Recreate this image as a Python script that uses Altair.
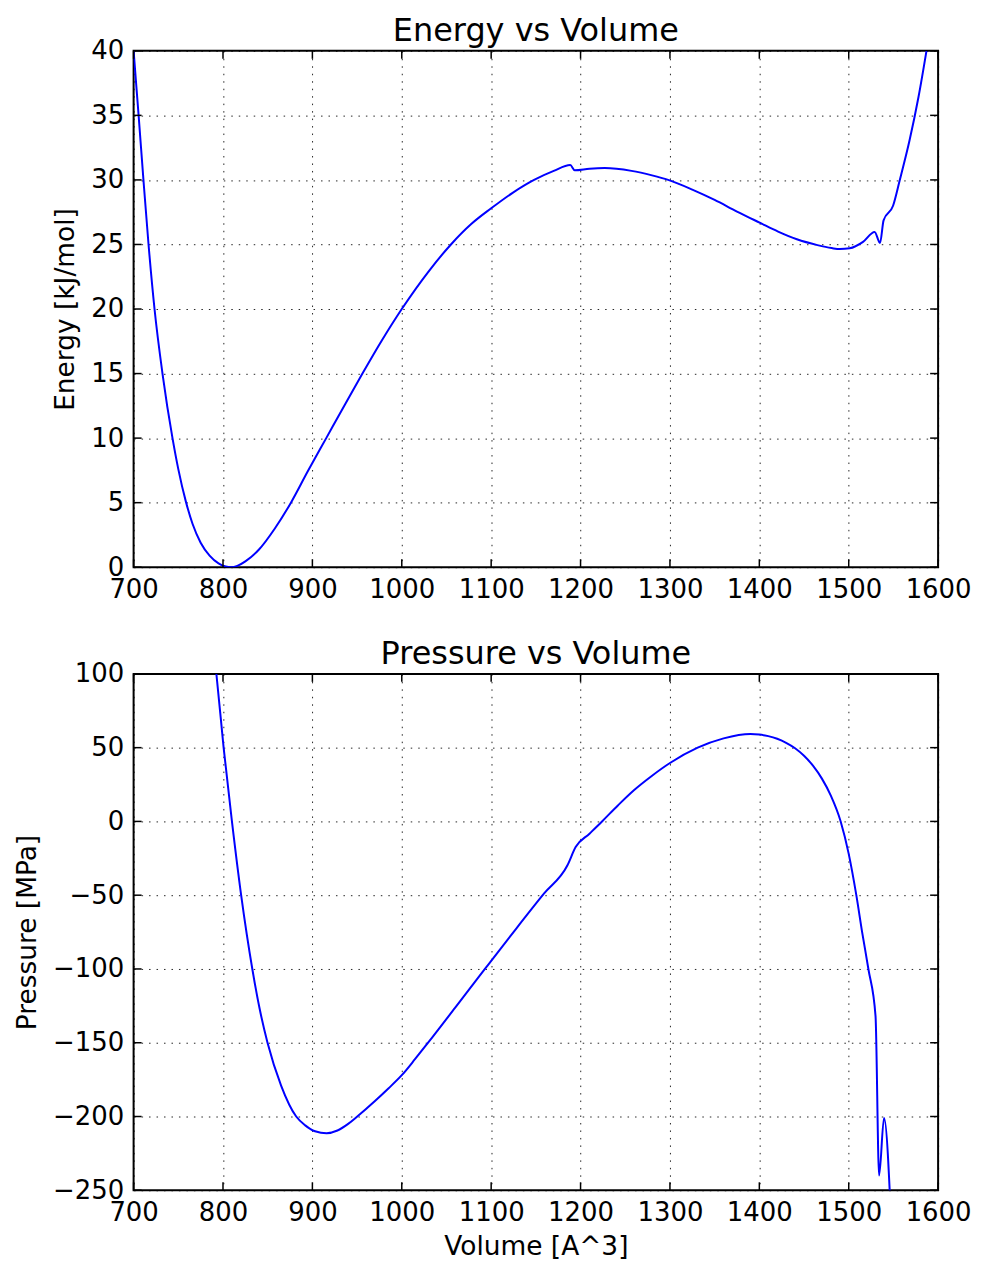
import altair as alt
import pandas as pd

# ---- data ----
energy_volume = [700, 703, 705.6, 711, 716.7, 723.4, 732.3, 743.5, 750, 758.4, 766, 775, 785, 795, 803,
                 809, 816, 825, 840, 858, 876, 895, 915.5, 936, 956, 978, 1000, 1031, 1055, 1078,
                 1100, 1124, 1148, 1170, 1188.5, 1193.5, 1210, 1227, 1257, 1280, 1298, 1325, 1350,
                 1375, 1401, 1421, 1442, 1465, 1481, 1490, 1501, 1516, 1529, 1535, 1539, 1549.6,
                 1557, 1568, 1578, 1587]
energy_kjmol = [40, 37.3, 35, 30, 25, 20, 15, 10, 7.6, 5.1, 3.35, 1.9, 0.9, 0.3, 0.05,
                0, 0.1, 0.45, 1.35, 3.0, 5, 7.45, 10, 12.55, 15, 17.6, 20, 23.0, 25, 26.6,
                27.8, 29.0, 30.0, 30.7, 31.15, 30.75, 30.87, 30.92, 30.7, 30.35, 30.0, 29.25, 28.45,
                27.55, 26.67, 26.0, 25.4, 24.95, 24.72, 24.64, 24.7, 25.2, 25.97, 25.12, 26.87, 28.0,
                29.96, 33.05, 36.4, 40]

pressure_volume = [790, 792.6, 800.7, 810, 820.3, 832.8, 841, 849.8, 865, 881.9, 892, 903, 915.9,
                   928, 940, 950.2, 970, 985, 1000, 1015, 1029, 1060, 1093, 1125, 1159, 1185.2,
                   1194.5, 1210, 1224, 1242, 1260, 1280, 1300, 1331, 1360, 1390, 1400, 1410, 1420,
                   1430, 1440, 1450, 1460, 1470, 1480, 1491, 1500, 1508.5, 1515, 1522, 1530, 1534,
                   1539.5, 1548]
pressure_mpa = [114, 100, 50, 0, -50, -100, -127, -150, -179, -200, -206, -210, -211.3,
                -209.5, -205, -200, -189.5, -181, -172, -161, -150.3, -126, -100, -75, -49, -29.9,
                -17.4, -8.3, 0, 11, 21.3, 31.0, 39.6, 50, 56.3, 59.3, 58.9, 57.8, 56.0,
                53.3, 49.6, 44.5, 37.8, 29.0, 17.5, 0, -22, -50, -75, -100, -132, -240,
                -201, -279]

x_ticks = [700, 800, 900, 1000, 1100, 1200, 1300, 1400, 1500, 1600]
energy_ticks = [0, 5, 10, 15, 20, 25, 30, 35, 40]
pressure_ticks = [-250, -200, -150, -100, -50, 0, 50, 100]

W, H = 807, 518
FONT = "DejaVu Sans"
TICK_LEN = 8

energy_df = pd.DataFrame({"volume": energy_volume, "value": energy_kjmol,
                          "idx": range(len(energy_volume))})
pressure_df = pd.DataFrame({"volume": pressure_volume, "value": pressure_mpa,
                            "idx": range(len(pressure_volume))})


def panel(df, ydomain, yticks, ytitle, title, xtitle):
    xaxis = alt.Axis(values=x_ticks, title=xtitle, grid=True, ticks=False, domain=False,
                     labelFlush=False, labelOverlap=False, format="d")
    yaxis = alt.Axis(values=yticks, title=ytitle, grid=True, ticks=False, domain=False,
                     labelFlush=False, labelOverlap=False, format="d")
    xs = alt.Scale(domain=[700, 1600], nice=False, zero=False)
    ys = alt.Scale(domain=ydomain, nice=False, zero=False)

    line = alt.Chart(df).mark_line(color="#0000ff", strokeWidth=2, clip=True,
                                   interpolate="monotone").encode(
        x=alt.X("volume:Q", scale=xs, axis=xaxis),
        y=alt.Y("value:Q", scale=ys, axis=yaxis),
        order="idx:Q",
    )
    xt = pd.DataFrame({"volume": x_ticks})
    yt = pd.DataFrame({"value": yticks})
    tb = alt.Chart(xt).mark_rule(color="black", strokeWidth=1.5).encode(
        x=alt.X("volume:Q", scale=xs, axis=xaxis), y=alt.value(H), y2=alt.value(H - TICK_LEN))
    tt = alt.Chart(xt).mark_rule(color="black", strokeWidth=1.5).encode(
        x=alt.X("volume:Q", scale=xs, axis=xaxis), y=alt.value(0), y2=alt.value(TICK_LEN))
    tl = alt.Chart(yt).mark_rule(color="black", strokeWidth=1.5).encode(
        y=alt.Y("value:Q", scale=ys, axis=yaxis), x=alt.value(0), x2=alt.value(TICK_LEN))
    tr = alt.Chart(yt).mark_rule(color="black", strokeWidth=1.5).encode(
        y=alt.Y("value:Q", scale=ys, axis=yaxis), x=alt.value(W), x2=alt.value(W - TICK_LEN))

    return alt.layer(line, tb, tt, tl, tr).properties(
        width=W, height=H,
        title=alt.Title(title, font=FONT, fontSize=32, fontWeight="normal", color="black",
                        offset=-10, anchor="middle", frame="group"),
    )


top = panel(energy_df, [0, 40], energy_ticks, "Energy [kJ/mol]", "Energy vs Volume", None)
bottom = panel(pressure_df, [-250, 100], pressure_ticks, "Pressure [MPa]", "Pressure vs Volume",
               "Volume [A^3]")

chart = alt.vconcat(
    top, bottom, spacing=34, background="white",
    padding={"left": 5, "top": 4, "right": 0, "bottom": 0},
).configure_view(
    stroke="black", strokeWidth=2
).configure_axis(
    labelFont=FONT, labelFontSize=26, labelColor="black", labelPadding=10,
    titleFont=FONT, titleFontSize=26.5, titleFontWeight="normal", titleColor="black",
    titlePadding=11, gridColor="black", gridDash=[1.5, 6], gridWidth=1, gridOpacity=0.85,
).configure_axisX(labelPadding=9, titlePadding=8)

chart.save("out.html", embed_options={"renderer": "svg", "actions": False})
